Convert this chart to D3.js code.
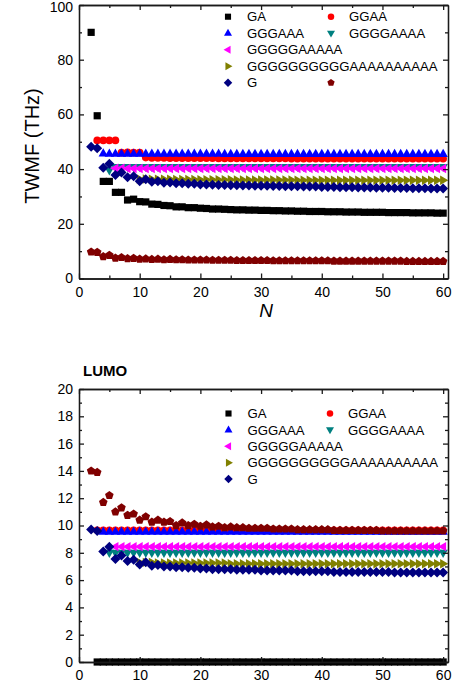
<!DOCTYPE html>
<html><head><meta charset="utf-8">
<script src="https://cdn.jsdelivr.net/npm/d3@7/dist/d3.min.js"></script>
<style>
body{margin:0;background:#fff}
svg{display:block;font-family:"Liberation Sans",Arial,Helvetica,sans-serif}
</style>
</head><body>
<svg id="chart" width="455" height="689"></svg>
<script>
// ---------- series metadata ----------
const seriesNames  = ["GA","GGAA","GGGAAA","GGGGAAAA","GGGGGAAAAA","GGGGGGGGGGAAAAAAAAAA","G",""];
const seriesColors = ["#000000","#ff0000","#0000ff","#008080","#ff00ff","#808000","#000080","#800000"];
const seriesShapes = ["square","circle","triUp","triDown","triLeft","triRight","diamond","pentagon"];

// ---------- TOP panel (TWMF, THz) : first N of each series + values ----------
const topStartN = [2,3,4,5,6,10,2,2];
const topGA = [90,59.5,35.5,35.5,31.5,31.5,28.7,29.0,28.1,28.0,
  27.2,27.1,26.7,26.6,26.2,26.2,25.9,25.9,25.7,25.6,
  25.4,25.4,25.3,25.2,25.1,25.1,25.0,25.0,24.9,24.9,
  24.8,24.8,24.7,24.7,24.6,24.6,24.5,24.5,24.5,24.4,
  24.4,24.4,24.3,24.3,24.3,24.2,24.2,24.2,24.2,24.1,
  24.1,24.1,24.1,24.0,24.0,24.0,24.0,23.9,23.9];
const topGGAA = [50.5,50.5,50.5,50.5,46.0,46.1,46.0,46.0,44.2,44.1,
  44.1,44.1,44.0,44.0,44.0,44.0,44.0,44.0,44.0,44.0,
  43.9,43.9,43.9,43.9,43.9,43.9,43.9,43.9,43.9,43.9,
  43.9,43.9,43.8,43.8,43.8,43.8,43.8,43.8,43.8,43.8,
  43.8,43.8,43.8,43.8,43.8,43.8,43.8,43.8,43.8,43.8,
  43.8,43.8,43.8,43.8,43.8,43.8,43.8,43.8];
const topGGGAAA = [45.7,45.6,45.6,45.6,45.6,45.6,45.6,45.6,45.6,45.6,
  45.6,45.6,45.6,45.6,45.6,45.6,45.6,45.6,45.6,45.6,
  45.5,45.5,45.5,45.5,45.5,45.5,45.5,45.5,45.5,45.5,
  45.5,45.5,45.5,45.5,45.5,45.5,45.5,45.5,45.5,45.5,
  45.5,45.5,45.5,45.5,45.5,45.5,45.5,45.5,45.5,45.5,
  45.5,45.5,45.5,45.5,45.5,45.5,45.5];
const topGGGGAAAA = [39.6,40.8,40.8,40.8,40.8,40.8,40.8,40.8,40.8,40.8,
  40.8,40.8,40.8,40.8,40.8,40.8,40.8,40.8,40.8,40.8,
  40.8,40.8,40.8,40.8,40.8,40.8,40.8,40.8,40.8,40.8,
  40.8,40.8,40.8,40.8,40.8,40.8,40.8,40.8,40.8,40.8,
  40.8,40.8,40.8,40.8,40.8,40.8,40.8,40.8,40.8,40.8,
  40.8,40.8,40.8,40.8,40.8,40.8];
const topGGGGGAAAAA = [40.3,40.3,40.2,40.2,40.2,40.2,40.2,40.2,40.2,40.2,
  40.2,40.2,40.2,40.2,40.2,40.2,40.2,40.2,40.2,40.2,
  40.2,40.2,40.2,40.2,40.2,40.2,40.2,40.2,40.2,40.2,
  40.2,40.2,40.2,40.2,40.2,40.2,40.2,40.2,40.2,40.2,
  40.2,40.2,40.2,40.2,40.2,40.2,40.2,40.2,40.2,40.2,
  40.2,40.2,40.2,40.2,40.2];
const topG10A10 = [36.4,36.4,36.3,36.3,36.3,36.3,36.2,36.2,36.2,36.2,
  36.1,36.1,36.1,36.1,36.1,36.1,36.0,36.0,36.0,36.0,
  36.0,36.0,36.0,36.0,36.0,36.0,35.9,35.9,35.9,35.9,
  35.9,35.9,35.9,35.9,35.9,35.9,35.9,35.9,35.9,35.9,
  35.9,35.9,35.9,35.9,35.9,35.9,35.9,35.9,35.9,35.9,
  35.9];
const topG = [48.2,47.6,40.5,42.0,37.8,38.8,37.0,37.4,35.6,36.3,
  35.4,35.6,35.0,35.1,34.8,34.8,34.6,34.6,34.4,34.4,
  34.3,34.2,34.2,34.1,34.1,34.0,34.0,33.9,33.9,33.9,
  33.8,33.8,33.7,33.7,33.7,33.6,33.6,33.6,33.5,33.5,
  33.5,33.4,33.4,33.4,33.3,33.3,33.3,33.2,33.2,33.2,
  33.1,33.1,33.1,33.0,33.0,33.0,32.9,32.9,32.9];
const topPentagon = [9.7,9.6,8.0,8.5,7.5,7.7,7.3,7.4,7.1,7.2,
  7.0,7.1,6.9,7.0,6.9,6.9,6.8,6.8,6.8,6.8,
  6.7,6.7,6.7,6.7,6.6,6.6,6.6,6.6,6.6,6.6,
  6.5,6.5,6.5,6.5,6.5,6.5,6.5,6.5,6.5,6.5,
  6.4,6.4,6.4,6.4,6.4,6.4,6.4,6.4,6.4,6.4,
  6.4,6.4,6.3,6.3,6.3,6.3,6.3,6.3,6.3];

// ---------- BOTTOM panel (LUMO) ----------
const botStartN = [3,3,4,5,6,10,2,2];
const botGA = [0,0,0,0,0,0,0,0,0,0, 0,0,0,0,0,0,0,0,0,0,
  0,0,0,0,0,0,0,0,0,0, 0,0,0,0,0,0,0,0,0,0,
  0,0,0,0,0,0,0,0,0,0, 0,0,0,0,0,0,0,0];
const botGGAA = [9.65,9.65,9.65,9.65,9.65,9.65,9.65,9.65,9.65,9.65,
  9.65,9.65,9.65,9.65,9.65,9.65,9.65,9.65,9.65,9.65,
  9.65,9.65,9.65,9.65,9.65,9.65,9.65,9.65,9.65,9.65,
  9.65,9.65,9.65,9.65,9.65,9.65,9.65,9.65,9.65,9.65,
  9.65,9.65,9.65,9.65,9.65,9.65,9.65,9.65,9.65,9.65,
  9.65,9.65,9.65,9.65,9.65,9.65,9.65,9.65];
const botGGGAAA = [9.55,9.55,9.55,9.55,9.55,9.55,9.55,9.55,9.55,9.55,
  9.55,9.55,9.55,9.55,9.55,9.55,9.55,9.55,9.55,9.55,
  9.55,9.55,9.55,9.55,9.55,9.55,9.55,9.55,9.55,9.55,
  9.55,9.55,9.55,9.55,9.55,9.55,9.55,9.55,9.55,9.55,
  9.55,9.55,9.55,9.55,9.55,9.55,9.55,9.55,9.55,9.55,
  9.55,9.55,9.55,9.55,9.55,9.55,9.55];
const botGGGGAAAA = [8.0,8.0,8.0,8.0,8.0,8.0,8.0,8.0,8.0,8.0,
  8.0,8.0,8.0,8.0,8.0,8.0,8.0,8.0,8.0,8.0,
  8.0,8.0,8.0,8.0,8.0,8.0,8.0,8.0,8.0,8.0,
  8.0,8.0,8.0,8.0,8.0,8.0,8.0,8.0,8.0,8.0,
  8.0,8.0,8.0,8.0,8.0,8.0,8.0,8.0,8.0,8.0,
  8.0,8.0,8.0,8.0,8.0,8.0];
const botGGGGGAAAAA = [8.45,8.45,8.45,8.45,8.45,8.45,8.45,8.45,8.45,8.45,
  8.45,8.45,8.45,8.45,8.45,8.45,8.45,8.45,8.45,8.45,
  8.45,8.45,8.45,8.45,8.45,8.45,8.45,8.45,8.45,8.45,
  8.45,8.45,8.45,8.45,8.45,8.45,8.45,8.45,8.45,8.45,
  8.45,8.45,8.45,8.45,8.45,8.45,8.45,8.45,8.45,8.45,
  8.45,8.45,8.45,8.45,8.45];
const botG10A10 = [7.3,7.3,7.3,7.25,7.25,7.25,7.25,7.25,7.25,7.25,
  7.25,7.25,7.25,7.25,7.25,7.2,7.2,7.2,7.2,7.2,
  7.2,7.2,7.2,7.2,7.2,7.2,7.2,7.2,7.2,7.2,
  7.2,7.2,7.2,7.2,7.2,7.2,7.2,7.2,7.2,7.2,
  7.2,7.2,7.2,7.2,7.2,7.2,7.2,7.2,7.2,7.2,
  7.2];
const botG = [9.7,9.6,8.1,8.45,7.55,7.8,7.4,7.5,7.15,7.3,
  7.05,7.1,7.0,7.0,6.95,6.95,6.9,6.9,6.85,6.85,
  6.8,6.8,6.8,6.8,6.75,6.75,6.75,6.75,6.7,6.7,
  6.7,6.7,6.7,6.7,6.65,6.65,6.65,6.65,6.65,6.65,
  6.6,6.6,6.6,6.6,6.6,6.6,6.6,6.6,6.6,6.6,
  6.55,6.55,6.55,6.55,6.55,6.55,6.55,6.55,6.55];
const botPentagon = [14.0,13.9,11.7,12.2,11.0,11.3,10.75,10.85,10.4,10.65,
  10.25,10.4,10.25,10.3,10.0,10.2,10.0,10.1,9.95,10.05,
  9.9,9.95,9.85,9.9,9.85,9.85,9.8,9.8,9.8,9.8,
  9.75,9.75,9.75,9.75,9.7,9.7,9.7,9.7,9.7,9.7,
  9.65,9.65,9.65,9.65,9.65,9.65,9.65,9.65,9.6,9.6,
  9.6,9.6,9.6,9.6,9.6,9.6,9.6,9.6,9.6];

// ---------- axis ticks ----------
const xMajorTicks = [0,10,20,30,40,50,60];
const xMinorTicks = [5,15,25,35,45,55];
const topYMajor = [0,20,40,60,80,100];
const topYMinor = [10,30,50,70,90];
const botYMajor = [0,2,4,6,8,10,12,14,16,18,20];
const botYMinor = [1,3,5,7,9,11,13,15,17,19];

// ---------- helpers ----------
function shapePath(t){
  switch(t){
    case "square": return "M-3.6,-3.6h7.2v7.2h-7.2Z";
    case "circle": return d3.symbol(d3.symbolCircle, 46)();
    case "triUp": return "M0,-5.2L4.7,3L-4.7,3Z";
    case "triDown": return "M0,5.2L4.7,-3L-4.7,-3Z";
    case "triLeft": return "M-5.2,0L3,-4.7L3,4.7Z";
    case "triRight": return "M5.2,0L-3,-4.7L-3,4.7Z";
    case "diamond": return "M0,-5L5,0L0,5L-5,0Z";
    case "pentagon": {
      const r = 4.5, pts = [];
      for (let k=0;k<5;k++){ const a = -Math.PI/2 + k*2*Math.PI/5; pts.push([r*Math.cos(a), r*Math.sin(a)]); }
      return "M" + pts.map(p=>p[0].toFixed(2)+","+p[1].toFixed(2)).join("L") + "Z";
    }
  }
}

const svg = d3.select("#chart");

function drawPanel(opt){
  const g = svg.append("g");
  const x = d3.scaleLinear().domain([0,60.8]).range([opt.left, opt.right]);
  const y = d3.scaleLinear().domain(opt.yDomain).range([opt.bottom, opt.top]);

  opt.series.forEach((vals, si)=>{
    const start = opt.startN[si];
    g.append("g").selectAll("path").data(vals).join("path")
      .attr("d", shapePath(seriesShapes[si]))
      .attr("fill", seriesColors[si])
      .attr("transform", (v,i)=>`translate(${x(start+i)},${y(v)})`);
  });

  const axStyle = sel => { sel.selectAll("path,line").attr("stroke","#1a1a1a").attr("stroke-width",1.3);
                          sel.selectAll("text").attr("fill","#000").attr("font-size",14).attr("font-family","Liberation Sans, Arial, sans-serif"); };
  g.append("g").attr("transform",`translate(0,${opt.bottom})`)
    .call(d3.axisBottom(x).tickValues(xMajorTicks).tickFormat(d3.format("d")).tickSizeInner(-5).tickSizeOuter(0).tickPadding(8.5)).call(axStyle);
  g.append("g").attr("transform",`translate(0,${opt.bottom})`)
    .call(d3.axisBottom(x).tickValues(xMinorTicks).tickFormat("").tickSizeInner(-3).tickSizeOuter(0)).call(axStyle);
  g.append("g").attr("transform",`translate(0,${opt.top})`)
    .call(d3.axisTop(x).tickValues(xMajorTicks).tickFormat("").tickSizeInner(-5).tickSizeOuter(0)).call(axStyle);
  g.append("g").attr("transform",`translate(0,${opt.top})`)
    .call(d3.axisTop(x).tickValues(xMinorTicks).tickFormat("").tickSizeInner(-3).tickSizeOuter(0)).call(axStyle);
  const leftAx = g.append("g").attr("transform",`translate(${opt.left},0)`)
    .call(d3.axisLeft(y).tickValues(opt.yMajor).tickFormat(d3.format("d")).tickSizeInner(-5).tickSizeOuter(0).tickPadding(6)).call(axStyle);
  if (opt.topLabelNudge) leftAx.selectAll(".tick text").filter(d=>d===opt.yDomain[1]).attr("dy","0.45em");
  g.append("g").attr("transform",`translate(${opt.left},0)`)
    .call(d3.axisLeft(y).tickValues(opt.yMinor).tickFormat("").tickSizeInner(-3).tickSizeOuter(0)).call(axStyle);
  g.append("g").attr("transform",`translate(${opt.right},0)`)
    .call(d3.axisRight(y).tickValues(opt.yMajor).tickFormat("").tickSizeInner(-5).tickSizeOuter(0)).call(axStyle);
  g.append("g").attr("transform",`translate(${opt.right},0)`)
    .call(d3.axisRight(y).tickValues(opt.yMinor).tickFormat("").tickSizeInner(-3).tickSizeOuter(0)).call(axStyle);

  const lg = g.append("g");
  opt.legendSlots.forEach((slot, si)=>{
    if (!slot) return;
    const [row, col] = slot;
    const ly = opt.legendY0 + row*opt.legendDy;
    const mx = opt.legendMarkerX[col], tx = opt.legendTextX[col];
    lg.append("path").attr("d", shapePath(seriesShapes[si])).attr("fill", seriesColors[si])
      .attr("transform", `translate(${mx},${ly}) scale(0.85)`);
    if (seriesNames[si]) lg.append("text").attr("x", tx).attr("y", ly+4.7)
      .attr("font-size", 13.2).attr("fill","#000").text(seriesNames[si]);
  });
  return {x,y};
}

drawPanel({
  left:79, right:448, top:5, bottom:278.5, yDomain:[0,100], topLabelNudge:true,
  yMajor: topYMajor, yMinor: topYMinor, startN: topStartN,
  series:[topGA, topGGAA, topGGGAAA, topGGGGAAAA, topGGGGGAAAAA, topG10A10, topG, topPentagon],
  legendSlots:[[0,0],[0,1],[1,0],[1,1],[2,0],[3,0],[4,0],[4,1]],
  legendY0:16.7, legendDy:16.5, legendMarkerX:[228,331], legendTextX:[247,349]
});
drawPanel({
  left:79, right:448, top:389, bottom:662, yDomain:[0,20],
  yMajor: botYMajor, yMinor: botYMinor, startN: botStartN,
  series:[botGA, botGGAA, botGGGAAA, botGGGGAAAA, botGGGGGAAAAA, botG10A10, botG, botPentagon],
  legendSlots:[[0,0],[0,1],[1,0],[1,1],[2,0],[3,0],[4,0],null],
  legendY0:413.5, legendDy:16.4, legendMarkerX:[228.5,330], legendTextX:[247.5,348]
});

svg.append("text").attr("transform","translate(39,146) rotate(-90)").attr("text-anchor","middle")
  .attr("font-size",20).attr("fill","#000").text("TWMF (THz)");
svg.append("text").attr("x",266).attr("y",317).attr("text-anchor","middle")
  .attr("font-size",19).attr("font-style","italic").attr("fill","#000").text("N");
svg.append("text").attr("x",83).attr("y",376).attr("font-size",15).attr("font-weight","bold")
  .attr("fill","#000").text("LUMO");
</script>
</body></html>
